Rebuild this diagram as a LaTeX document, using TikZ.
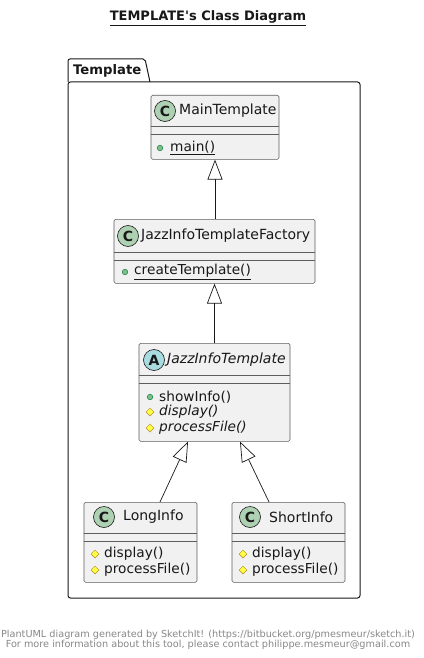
\documentclass[tikz,border=0pt]{standalone}
\usepackage{fontspec}
\setmainfont{DejaVu Sans}
\usetikzlibrary{arrows.meta,calc,positioning,shapes.geometric}
\definecolor{ink}{HTML}{181818}
\definecolor{boxfill}{HTML}{F1F1F1}
\definecolor{cspot}{HTML}{ADD1B2}
\definecolor{aspot}{HTML}{A9DCDF}
\definecolor{pubfill}{HTML}{84BE84}
\definecolor{publine}{HTML}{038048}
\definecolor{protfill}{HTML}{FFFF44}
\definecolor{protline}{HTML}{B38D22}
\definecolor{footer}{HTML}{888888}
\tikzset{
  every node/.style={font=\fontsize{13.7}{15}\selectfont,text=ink,inner sep=0pt},
  title/.style={font=\bfseries\fontsize{13}{15}\selectfont},
  pkg/.style={font=\bfseries\fontsize{13.2}{15}\selectfont,anchor=west},
  classbox/.style={draw=ink!70,fill=boxfill,rounded corners=1.5pt,line width=.6pt,anchor=north},
  spot/.style={circle,draw=ink,line width=.6pt,minimum size=21pt,font=\bfseries\fontsize{14}{15}\selectfont},
  cname/.style={anchor=west,font=\fontsize{14}{15}\selectfont},
  meth/.style={anchor=west},
  pub/.style={circle,draw=publine,fill=pubfill,line width=.5pt,minimum size=5.5pt},
  prot/.style={diamond,draw=protline,fill=protfill,line width=.5pt,minimum size=8pt},
  sep/.style={draw=ink!70,line width=.6pt},
  inherit/.style={-{Triangle[open,length=20pt,width=15pt]},draw=ink,line width=.7pt},
  foot/.style={font=\fontsize{9.7}{11}\selectfont,text=footer},
}
% class frame: id, centre x, top y, width, height; two separator rules below the header
\newcommand{\classframe}[6]{%
  \node[classbox,minimum width=#4pt,minimum height=#5pt] (#1) at (#2,#3) {};
  \draw[sep] ([yshift=-#6pt]#1.north west) -- ([yshift=-#6pt]#1.north east);
  \draw[sep] ([yshift=-#6pt-8pt]#1.north west) -- ([yshift=-#6pt-8pt]#1.north east);
}

\begin{document}
\begin{tikzpicture}[x=1pt,y=-1pt]
\path[use as bounding box] (0,0) rectangle (423,658);
\fill[white] (0,0) rectangle (423,658);
\node[title] (ttl) at (208,18) {\underline{TEMPLATE\textquotesingle s Class Diagram}};
% Package frame with its tab
\draw[ink,line width=1pt,rounded corners=2.5pt] (68,82) -- (68,598) -- (360,598) -- (360,82) -- cycle;
\draw[ink,line width=1pt,rounded corners=2pt] (68,82) -- (68,59) -- (145,59) -- (150,82);
\node[pkg] (pkgname) at (73,71) {Template};
% MainTemplate
\classframe{main}{215}{95}{128}{64}{31}
\node[spot,fill=cspot] (main-c) at (165,111) {C};
\node[cname] (main-n) at (179,111) {MainTemplate};
\node[pub] (main-p1) at (160,148) {};
\node[meth] (main-m1) at (170,148) {\underline{main()}};
% JazzInfoTemplateFactory
\classframe{factory}{214.5}{219}{201}{64}{33}
\node[spot,fill=cspot] (factory-c) at (128,236) {C};
\node[cname] (factory-n) at (141,236) {JazzInfoTemplateFactory};
\node[pub] (factory-p1) at (125,272) {};
\node[meth] (factory-m1) at (134,272) {\underline{createTemplate()}};
% JazzInfoTemplate (abstract)
\classframe{jazz}{214.5}{343}{151}{98}{32}
\node[spot,fill=aspot] (jazz-c) at (154,360) {A};
\node[cname] (jazz-n) at (167,360) {\itshape JazzInfoTemplate};
\node[pub] (jazz-p1) at (150,397) {};
\node[meth] (jazz-m1) at (159,397) {showInfo()};
\node[prot] (jazz-p2) at (150,412) {};
\node[meth] (jazz-m2) at (159,412) {\itshape display()};
\node[prot] (jazz-p3) at (150,428) {};
\node[meth] (jazz-m3) at (159,428) {\itshape processFile()};
% LongInfo
\classframe{long}{140.5}{502}{113}{80}{31}
\node[spot,fill=cspot] (long-c) at (104,517) {C};
\node[cname] (long-n) at (123,517) {LongInfo};
\node[prot] (long-p1) at (95,554) {};
\node[meth] (long-m1) at (104,554) {display()};
\node[prot] (long-p2) at (95,570) {};
\node[meth] (long-m2) at (104,570) {processFile()};
% ShortInfo
\classframe{short}{288.5}{502}{113}{80}{31}
\node[spot,fill=cspot] (short-c) at (250,517) {C};
\node[cname] (short-n) at (269,517) {ShortInfo};
\node[prot] (short-p1) at (243,554) {};
\node[meth] (short-m1) at (252,554) {display()};
\node[prot] (short-p2) at (243,570) {};
\node[meth] (short-m2) at (252,570) {processFile()};
% Generalisations
\draw[inherit] (factory.north -| main.south) -- (main.south);
\draw[inherit] (jazz.north) -- (factory.south);
\draw[inherit] ([xshift=19.5pt]long.north) -- ([xshift=-26.5pt]jazz.south);
\draw[inherit] ([xshift=-19.5pt]short.north) -- ([xshift=25.5pt]jazz.south);
% Footer
\node[foot] (foot1) at (208,635) {PlantUML diagram generated by SketchIt! (https://bitbucket.org/pmesmeur/sketch.it)};
\node[foot] (foot2) at (208,645) {For more information about this tool, please contact philippe.mesmeur@gmail.com};
\end{tikzpicture}
\end{document}
